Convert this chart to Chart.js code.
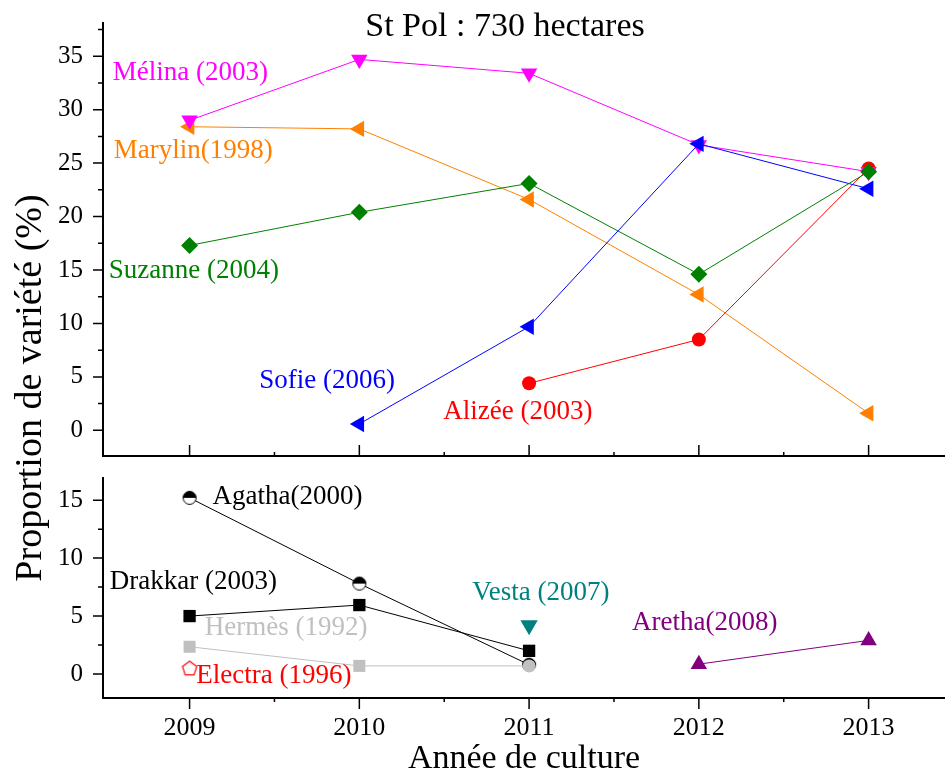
<!DOCTYPE html>
<html>
<head>
<meta charset="utf-8">
<script src="https://cdn.jsdelivr.net/npm/chart.js@4.4.1/dist/chart.umd.min.js"></script>
<style>
  body { margin: 0; background: #fff; }
  #wrap { position: relative; width: 945px; height: 774px; overflow: hidden; font-family: "Liberation Serif", "Times New Roman", serif; }
  #topChart { position: absolute; left: 0; top: 0; }
  #bottomChart { position: absolute; left: 0; top: 460px; }
  #title { position: absolute; left: 65px; top: 8px; width: 880px; text-align: center; font-size: 34px; line-height: 34px; }
  #yTitle { position: absolute; left: -222px; top: 368px; width: 500px; height: 40px; line-height: 40px; text-align: center; font-size: 38px; transform: rotate(-90deg); white-space: nowrap; }
</style>
</head>
<body>
<div id="wrap">
  <canvas id="topChart" width="945" height="460"></canvas>
  <canvas id="bottomChart" width="945" height="314"></canvas>
  <div id="title">St Pol : 730 hectares</div>
  <div id="yTitle">Proportion de variété (%)</div>
</div>
<script>
// --- values ---
const years = [2009, 2010, 2011, 2012, 2013];
const topTicks = [0, 5, 10, 15, 20, 25, 30, 35];
const bottomTicks = [0, 5, 10, 15];

const melina  = [29.0, 34.7, 33.4, 26.7, 24.2];
const marylin = [28.4, 28.2, 21.6, 12.7, 1.6];
const suzanne = [17.3, 20.4, 23.1, 14.6, 24.2];
const sofie   = [null, 0.6, 9.7, 26.8, 22.6];
const alizee  = [null, null, 4.4, 8.5, 24.5];

const agatha  = [15.2, 7.8, 0.8, null, null];
const drakkar = [5.0, 5.95, 2.0, null, null];
const hermes  = [2.35, 0.7, 0.7, null, null];
const electra = [0.5, null, null, null, null];
const vesta   = [null, null, 4.2, null, null];
const aretha  = [null, null, null, 0.85, 2.9];

const serif = "'Liberation Serif', 'Times New Roman', serif";
Chart.defaults.font.family = serif;
Chart.defaults.color = '#000';

// custom markers
function halfCircle() {
  const c = document.createElement('canvas');
  c.width = 16; c.height = 16;
  const g = c.getContext('2d');
  g.beginPath(); g.arc(8, 8, 6.5, 0, Math.PI * 2); g.fillStyle = '#fff'; g.fill();
  g.beginPath(); g.arc(8, 8, 6.5, Math.PI, 0); g.closePath(); g.fillStyle = '#000'; g.fill();
  g.beginPath(); g.arc(8, 8, 6.5, 0, Math.PI * 2); g.lineWidth = 1; g.strokeStyle = '#000'; g.stroke();
  return c;
}
function pentagon() {
  const c = document.createElement('canvas');
  c.width = 20; c.height = 20;
  const g = c.getContext('2d');
  g.beginPath();
  for (let i = 0; i < 5; i++) {
    const a = -Math.PI / 2 + i * 2 * Math.PI / 5;
    g.lineTo(10 + 7.5 * Math.cos(a), 10.5 + 7.5 * Math.sin(a));
  }
  g.closePath();
  g.fillStyle = '#fff'; g.fill();
  g.lineWidth = 1.2; g.strokeStyle = '#ff0000'; g.stroke();
  return c;
}

function series(values, color, style, radius, rotation) {
  return {
    data: years.map((x, i) => ({ x: x, y: values[i] })),
    borderColor: color,
    backgroundColor: color,
    pointBackgroundColor: color,
    borderWidth: 1,
    pointBorderWidth: 0,
    pointStyle: style,
    pointRadius: radius,
    pointRotation: rotation || 0,
    tension: 0
  };
}

// axis lines + major/minor ticks
const panelAxes = {
  id: 'panelAxes',
  afterDraw(chart, args, o) {
    const { ctx, chartArea: a, scales: { x, y } } = chart;
    ctx.save();
    ctx.strokeStyle = '#000';
    ctx.lineWidth = 2;
    ctx.beginPath();
    ctx.moveTo(a.left, a.top);
    ctx.lineTo(a.left, a.bottom);
    ctx.lineTo(a.right, a.bottom);
    ctx.stroke();
    ctx.lineWidth = 1.5;
    ctx.beginPath();
    o.yMajor.forEach(v => { const p = y.getPixelForValue(v); ctx.moveTo(a.left, p); ctx.lineTo(a.left - 10, p); });
    o.yMinor.forEach(v => { const p = y.getPixelForValue(v); ctx.moveTo(a.left, p); ctx.lineTo(a.left - 5, p); });
    o.xMajor.forEach(v => { const p = x.getPixelForValue(v); ctx.moveTo(p, a.bottom); ctx.lineTo(p, a.bottom + o.xDir * 11); });
    o.xMinor.forEach(v => { const p = x.getPixelForValue(v); ctx.moveTo(p, a.bottom); ctx.lineTo(p, a.bottom + o.xDir * 4); });
    ctx.stroke();
    ctx.restore();
  }
};

// variety names written next to their lines
const varietyLabels = {
  id: 'varietyLabels',
  afterDatasetsDraw(chart, args, o) {
    const { ctx, scales: { x, y } } = chart;
    ctx.save();
    ctx.font = '27px ' + serif;
    ctx.textAlign = 'left';
    ctx.textBaseline = 'middle';
    o.items.forEach(t => {
      ctx.fillStyle = t.color;
      ctx.fillText(t.text, x.getPixelForValue(t.x), y.getPixelForValue(t.y));
    });
    ctx.restore();
  }
};

const xMin = 2008.49, xMax = 2013.45;
const halfYears = [2009.5, 2010.5, 2011.5, 2012.5];

const topLabels = [
  { text: 'Mélina (2003)', color: '#ff00ff', x: 2008.547, y: 33.4 },
  { text: 'Marylin(1998)', color: '#ff8000', x: 2008.553, y: 26.1 },
  { text: 'Suzanne (2004)', color: '#008000', x: 2008.524, y: 14.9 },
  { text: 'Sofie (2006)', color: '#0000ff', x: 2009.41, y: 4.6 },
  { text: 'Alizée (2003)', color: '#ff0000', x: 2010.494, y: 1.75 }
];
const bottomLabels = [
  { text: 'Agatha(2000)', color: '#000', x: 2009.135, y: 15.3 },
  { text: 'Drakkar (2003)', color: '#000', x: 2008.53, y: 7.96 },
  { text: 'Hermès (1992)', color: '#c0c0c0', x: 2009.09, y: 3.94 },
  { text: 'Electra (1996)', color: '#ff0000', x: 2009.04, y: -0.17 },
  { text: 'Vesta (2007)', color: '#008080', x: 2010.665, y: 7.0 },
  { text: 'Aretha(2008)', color: '#800080', x: 2011.606, y: 4.4 }
];

function noPad(s) {
  s.paddingTop = 0; s.paddingBottom = 0; s.paddingLeft = 0; s.paddingRight = 0;
}

function yScale(min, max, ticks) {
  return {
    min: min, max: max,
    afterFit: s => { s.width = 103; noPad(s); },
    afterBuildTicks: s => { s.ticks = ticks.map(v => ({ value: v })); },
    grid: { display: false, drawTicks: false },
    border: { display: false },
    ticks: { padding: 20, font: { size: 25 }, color: '#000' }
  };
}

new Chart(document.getElementById('topChart'), {
  type: 'line',
  data: {
    datasets: [
      series(suzanne, '#008000', 'rectRot', 8.5),
      series(sofie, '#0000ff', 'triangle', 9.5, 270),
      series(melina, '#ff00ff', 'triangle', 9.5, 180),
      series(alizee, '#ff0000', 'circle', 7),
      series(marylin, '#ff8000', 'triangle', 9.5, 270)
    ]
  },
  options: {
    responsive: false,
    animation: false,
    layout: { autoPadding: false, padding: { top: 22, bottom: 4, left: 0, right: 0 } },
    plugins: {
      legend: { display: false },
      tooltip: { enabled: false },
      panelAxes: {
        yMajor: topTicks, yMinor: [2.5, 7.5, 12.5, 17.5, 22.5, 27.5, 32.5, 37.5],
        xMajor: years, xMinor: halfYears, xDir: -1
      },
      varietyLabels: { items: topLabels }
    },
    scales: {
      x: { type: 'linear', min: xMin, max: xMax, display: false, afterFit: noPad },
      y: yScale(-2.4, 38.2, topTicks)
    }
  },
  plugins: [panelAxes, varietyLabels]
});

new Chart(document.getElementById('bottomChart'), {
  type: 'line',
  data: {
    datasets: [
      series(hermes, '#c0c0c0', ['rect', 'rect', 'circle'], [8.5, 8.5, 6.5]),
      series(drakkar, '#000000', 'rect', 8.7),
      series(agatha, '#000000', halfCircle()),
      series(electra, '#ff0000', pentagon()),
      series(vesta, '#008080', 'triangle', 10, 180),
      series(aretha, '#800080', 'triangle', 9.5)
    ]
  },
  options: {
    responsive: false,
    animation: false,
    layout: { autoPadding: false, padding: { top: 17, bottom: 0, left: 0, right: 0 } },
    plugins: {
      legend: { display: false },
      tooltip: { enabled: false },
      panelAxes: {
        yMajor: bottomTicks, yMinor: [2.5, 7.5, 12.5],
        xMajor: years, xMinor: halfYears, xDir: 1
      },
      varietyLabels: { items: bottomLabels }
    },
    scales: {
      x: {
        type: 'linear', min: xMin, max: xMax,
        afterFit: s => { s.height = 76; noPad(s); },
        afterBuildTicks: s => { s.ticks = years.map(v => ({ value: v })); },
        grid: { display: false, drawTicks: false },
        border: { display: false },
        ticks: { padding: 15, font: { size: 26 }, color: '#000', maxRotation: 0, autoSkip: false, callback: v => String(v) },
        title: { display: true, text: 'Année de culture', font: { size: 34, lineHeight: 0.9 }, padding: 0, color: '#000' }
      },
      y: yScale(-2.07, 17.0, bottomTicks)
    }
  },
  plugins: [panelAxes, varietyLabels]
});
</script>
</body>
</html>
